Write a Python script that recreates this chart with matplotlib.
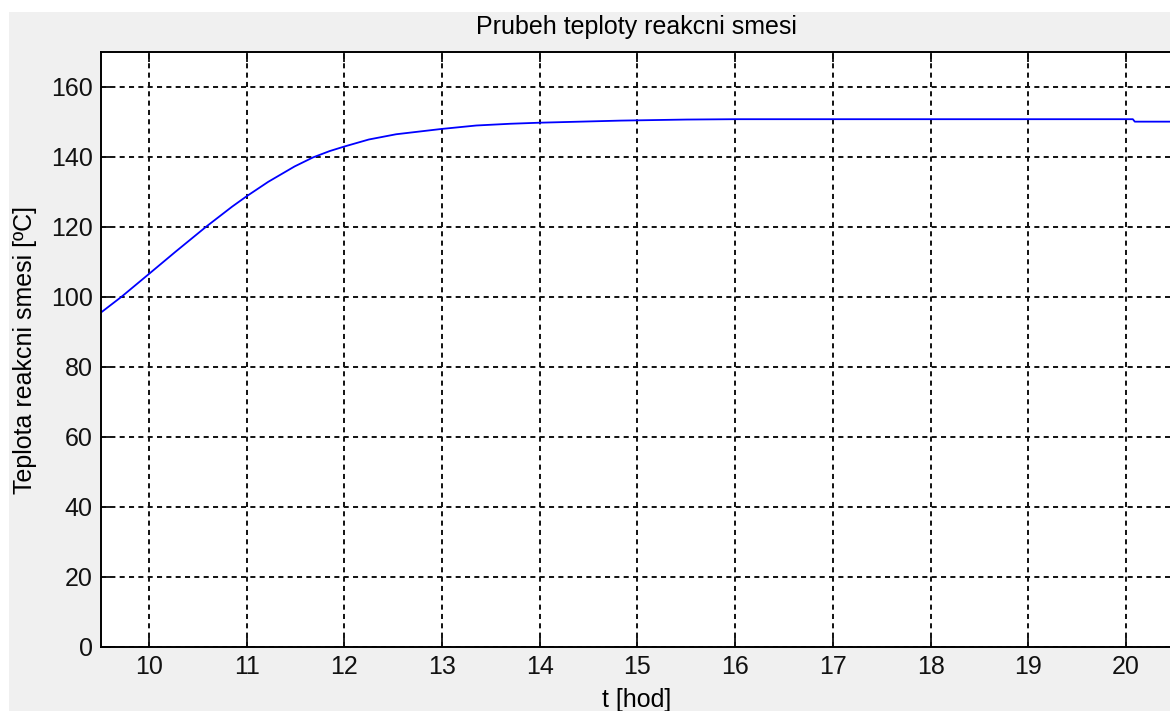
import matplotlib
matplotlib.use("Agg")
import matplotlib.pyplot as plt
from matplotlib.patches import Rectangle

# Data
t_hod = [9.51, 9.72, 10.0, 10.27, 10.59, 10.85, 11.0, 11.22, 11.49, 11.68, 11.85, 12.0,
         12.25, 12.53, 12.99, 13.35, 13.7, 14.0, 14.83, 15.5, 16.0, 17.0, 18.0, 19.0, 20.0,
         20.07, 20.09, 20.5]
teplota = [95.6, 100.1, 106.6, 112.9, 120.2, 125.8, 128.8, 132.9, 137.3, 139.9, 141.7, 143.0,
           145.0, 146.5, 148.0, 149.0, 149.5, 149.8, 150.4, 150.7, 150.8, 150.8, 150.8, 150.8,
           150.8, 150.8, 150.1, 150.1]
x_ticks = [10, 11, 12, 13, 14, 15, 16, 17, 18, 19, 20]
y_ticks = [0, 20, 40, 60, 80, 100, 120, 140, 160]

title = "Prubeh teploty reakcni smesi"
xlabel = "t [hod]"
ylabel = "Teplota reakcni smesi [ºC]"

plt.rcParams['font.family'] = ['Liberation Sans', 'DejaVu Sans']

W, H = 1170, 711
fig = plt.figure(figsize=(W / 100, H / 100), dpi=100)
fig.patch.set_facecolor('white')
fig.patches.append(Rectangle((9 / W, 0), 1, (H - 12) / H, transform=fig.transFigure,
                             facecolor='#f0f0f0', edgecolor='none', zorder=-10))

left, right, top, bottom = 101, 1172, 52, 647
ax = fig.add_axes([left / W, (H - bottom) / H, (right - left) / W, (bottom - top) / H])
ax.set_facecolor('white')

ax.plot(t_hod, teplota, color=(0, 0, 1), lw=1.3)

px_per_unit = 97.7
x0 = 10 - (149 - left) / px_per_unit
ax.set_xlim(x0, x0 + (right - left) / px_per_unit)
ax.set_ylim(0, 170)
ax.set_xticks(x_ticks)
ax.set_yticks(y_ticks)

ax.grid(True, color='#111111', linestyle=(0, (2.6, 2.2)), linewidth=1.4)
ax.tick_params(direction='in', length=7, width=1.3, top=True, right=False,
               labelsize=18, colors='#111111', pad=6)
for s in ['left', 'bottom', 'top']:
    ax.spines[s].set_linewidth(1.4)
ax.spines['right'].set_visible(False)

ax.set_title(title, fontsize=18, pad=13)
ax.set_xlabel(xlabel, fontsize=18, labelpad=6)
ax.set_ylabel(ylabel, fontsize=18, labelpad=10)

fig.savefig("out.png", dpi=100)
